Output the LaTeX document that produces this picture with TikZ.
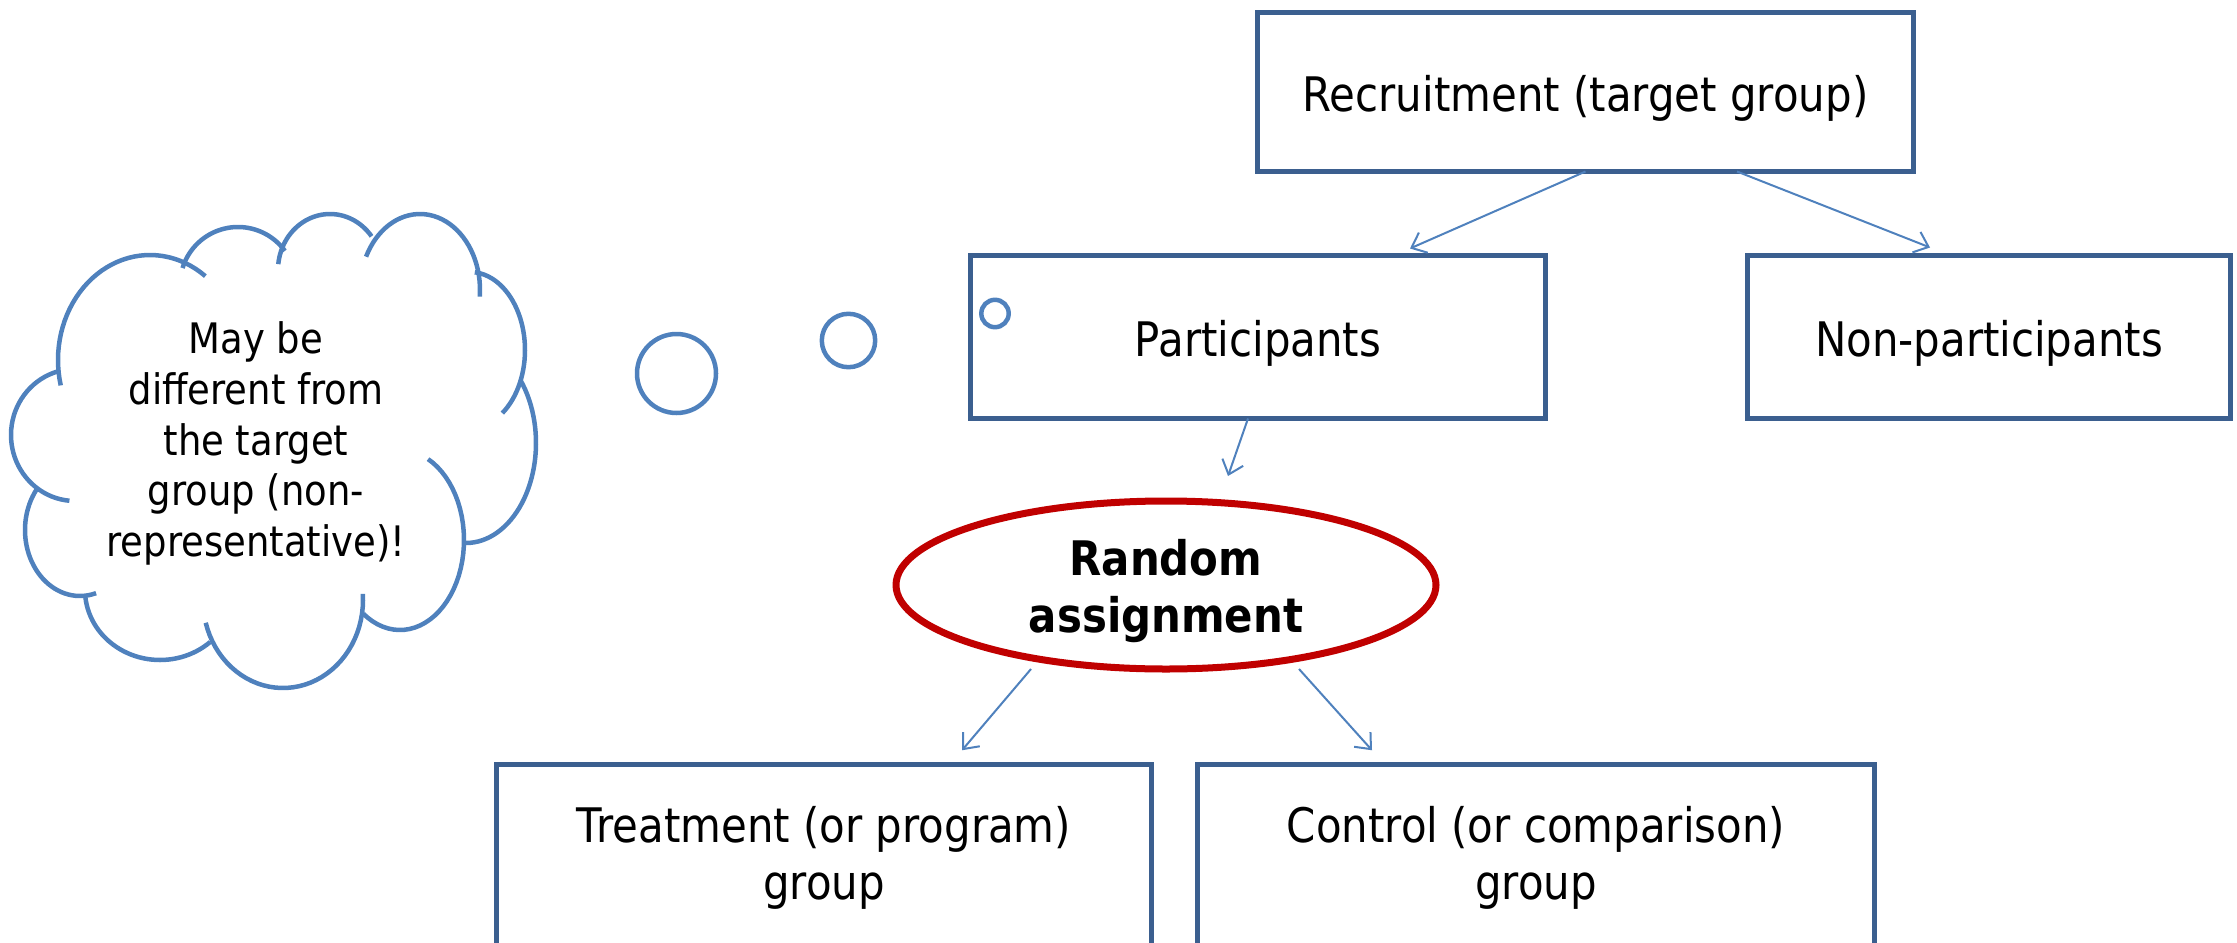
\documentclass[tikz,border=0pt]{standalone}
\usepackage{fontspec}
\setmainfont{DejaVu Sans}[FakeStretch=0.88]
\usetikzlibrary{arrows.meta,shapes.geometric}
\definecolor{boxblue}{HTML}{3B5F8F}
\definecolor{lineblue}{HTML}{4F81BD}
\definecolor{redline}{HTML}{C00000}
\begin{document}
\begin{tikzpicture}[x=1pt,y=-1pt,
  outer sep=0pt,
  boxnode/.style={draw=boxblue, line width=5pt, rectangle, inner sep=0pt, align=center, font=\fontsize{47.6}{57}\selectfont},
  oneline/.style={text height=44pt, text depth=6pt},
  randnode/.style={draw=redline, line width=7pt, ellipse, inner sep=0pt, minimum width=540pt, minimum height=168pt, align=center, font=\fontsize{47.6}{57}\selectfont\bfseries},
  arr/.style={draw=lineblue, line width=2pt, -{Straight Barb[length=13pt,width=22pt]}},
  cloudline/.style={draw=lineblue, line width=4.5pt},
  bubble/.style={draw=lineblue, line width=4.5pt},
  cloudtext/.style={inner sep=0pt, align=center, font=\fontsize{42}{50.8}\selectfont}
]
\useasboundingbox (0,0) rectangle (2237,942);
\clip (0,0) rectangle (2237,942);

% boxes
\node[boxnode, oneline, minimum width=656pt, minimum height=159pt] (rec) at (1585.5,92) {Recruitment (target group)};
\node[boxnode, oneline, minimum width=575pt, minimum height=163pt] (part) at (1258,337) {Participants};
\node[boxnode, oneline, minimum width=483pt, minimum height=163pt] (nonpart) at (1989,337) {Non-participants};
\node[randnode] (rand) at (1166,585) {\rule{0pt}{48pt}Random\\assignment};
\node[boxnode, minimum width=655pt, minimum height=187.5pt] (treat) at (824,858) {Treatment (or program)\\group};
\node[boxnode, minimum width=677pt, minimum height=187.5pt] (ctrl) at (1536,858) {Control (or comparison)\\group};

% arrows
\draw[arr] (rec.south) -- ([xshift=152pt,yshift=7pt]part.north);
\draw[arr] ([xshift=151.5pt]rec.south) -- ([xshift=-59pt,yshift=8pt]nonpart.north);
\draw[arr] ([xshift=-10pt]part.south) -- ([xshift=62pt,yshift=25pt]rand.north);
\draw[arr] ([xshift=-135pt]rand.south) -- ([xshift=138pt,yshift=14pt]treat.north);
\draw[arr] ([xshift=133pt]rand.south) -- ([xshift=-164pt,yshift=14pt]ctrl.north);

% thought bubbles
\draw[bubble] (676.5,373.5) circle[radius=39.5];
\draw[bubble] (848.5,340.5) circle[radius=26.7];
\draw[bubble] (995,313.5) circle[radius=13.7];

% cloud
\draw[cloudline] plot[domain=53:194,samples=40,variable=\t] ({150+92*cos(\t)},{360-105*sin(\t)});
\draw[cloudline] plot[domain=36:163,samples=40,variable=\t] ({238+58*cos(\t)},{285-58*sin(\t)});
\draw[cloudline] plot[domain=37:174,samples=40,variable=\t] ({330+52*cos(\t)},{270-56*sin(\t)});
\draw[cloudline] plot[domain=-5:154,samples=40,variable=\t] ({420+60*cos(\t)},{290-76*sin(\t)});
\draw[cloudline] plot[domain=-54:85,samples=40,variable=\t] ({470+55*cos(\t)},{350-78*sin(\t)});
\draw[cloudline] plot[domain=-90:39,samples=40,variable=\t] ({466+70*cos(\t)},{443-100*sin(\t)});
\draw[cloudline] plot[domain=-125:64,samples=40,variable=\t] ({400+64*cos(\t)},{540-90*sin(\t)});
\draw[cloudline] plot[domain=195:364,samples=40,variable=\t] ({283+80*cos(\t)},{600-88*sin(\t)});
\draw[cloudline] plot[domain=186:312,samples=40,variable=\t] ({160+75*cos(\t)},{590-70*sin(\t)});
\draw[cloudline] plot[domain=142:287,samples=40,variable=\t] ({80+55*cos(\t)},{530-66*sin(\t)});
\draw[cloudline] plot[domain=106:265,samples=40,variable=\t] ({75+64*cos(\t)},{435-66*sin(\t)});

\node[cloudtext] (cloudtxt) at (256,443.5) {May be\\different from\\the target\\group (non-\\representative)!};
\end{tikzpicture}
\end{document}
